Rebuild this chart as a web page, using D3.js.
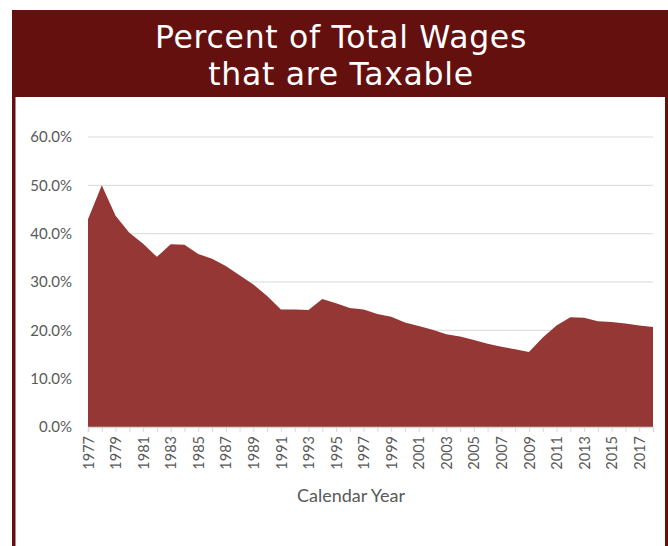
<!DOCTYPE html>
<html>
<head>
<meta charset="utf-8">
<script src="https://cdn.jsdelivr.net/npm/d3@7"></script>
<style>
  body { margin: 0; background: #fff; }
</style>
</head>
<body>
<div id="chart"></div>
<script>
const years = d3.range(1977, 2019);
const taxablePct = [
  43.0, 50.0, 43.7, 40.2, 37.9, 35.2, 37.8, 37.7, 35.8, 34.8,
  33.3, 31.4, 29.5, 27.1, 24.3, 24.3, 24.2, 26.5, 25.6, 24.6,
  24.3, 23.4, 22.8, 21.6, 20.9, 20.1, 19.2, 18.7, 18.0, 17.2,
  16.6, 16.1, 15.5, 18.5, 21.0, 22.7, 22.6, 21.9, 21.7, 21.4,
  21.0, 20.7
];
const yTicks = [0, 10, 20, 30, 40, 50, 60];
const titleLines = ['Percent of Total Wages', 'that are Taxable'];

const width = 668;
const height = 546;
const plot = { left: 88, right: 653, top: 137, bottom: 427 };

const svg = d3.select('#chart')
  .append('svg')
  .attr('width', width)
  .attr('height', height);

// frame + header band
svg.append('rect')
  .attr('x', 12).attr('y', 10)
  .attr('width', 670).attr('height', 560)
  .attr('fill', '#63100f');
svg.append('rect')
  .attr('x', 15.5).attr('y', 97)
  .attr('width', 649.5).attr('height', 470)
  .attr('fill', '#ffffff');

svg.append('g')
  .attr('font-family', '"DejaVu Sans", sans-serif')
  .attr('font-size', 31.5)
  .attr('letter-spacing', 0.7)
  .attr('fill', '#ffffff')
  .attr('text-anchor', 'middle')
  .selectAll('text')
  .data(titleLines)
  .join('text')
  .attr('x', 341)
  .attr('y', (d, i) => 48 + i * 37)
  .text((d) => d);

const x = d3.scaleLinear()
  .domain([years[0], years[years.length - 1]])
  .range([plot.left, plot.right]);

const y = d3.scaleLinear()
  .domain([0, 60])
  .range([plot.bottom, plot.top]);

// gridlines
svg.append('g')
  .selectAll('line')
  .data(yTicks.filter((d) => d > 0))
  .join('line')
  .attr('x1', plot.left)
  .attr('x2', plot.right)
  .attr('y1', (d) => y(d))
  .attr('y2', (d) => y(d))
  .attr('stroke', '#d9d9d9')
  .attr('stroke-width', 1);

// area
const area = d3.area()
  .x((d, i) => x(years[i]))
  .y0(y(0))
  .y1((d) => y(d));

svg.append('path')
  .datum(taxablePct)
  .attr('d', area)
  .attr('fill', '#953735');

// y axis labels
const yAxis = d3.axisLeft(y)
  .tickValues(yTicks)
  .tickSize(0)
  .tickPadding(16)
  .tickFormat((d) => d.toFixed(1) + '%');

svg.append('g')
  .attr('transform', `translate(${plot.left},0)`)
  .call(yAxis)
  .call((g) => g.select('.domain').remove())
  .call((g) => g.selectAll('text')
    .attr('font-family', 'Lato, sans-serif')
    .attr('font-size', 15)
    .attr('fill', '#595959'));

// x axis
const xAxis = d3.axisBottom(x)
  .tickValues(years)
  .tickSize(5)
  .tickFormat((d) => ((d - 1977) % 2 === 0 ? d : ''));

svg.append('g')
  .attr('transform', `translate(0,${plot.bottom})`)
  .call(xAxis)
  .call((g) => g.select('.domain').attr('stroke', '#d9d9d9').attr('stroke-width', 1.5))
  .call((g) => g.selectAll('.tick line').attr('stroke', '#d9d9d9'))
  .call((g) => g.selectAll('text')
    .attr('font-family', 'Lato, sans-serif')
    .attr('font-size', 14.5)
    .attr('fill', '#595959')
    .attr('text-anchor', 'end')
    .attr('transform', 'rotate(-90)')
    .attr('x', -9)
    .attr('y', 0)
    .attr('dy', '0.35em'));

svg.append('text')
  .attr('x', 351)
  .attr('y', 502)
  .attr('text-anchor', 'middle')
  .attr('font-family', 'Lato, sans-serif')
  .attr('font-size', 18)
  .attr('fill', '#595959')
  .text('Calendar Year');
</script>
</body>
</html>
